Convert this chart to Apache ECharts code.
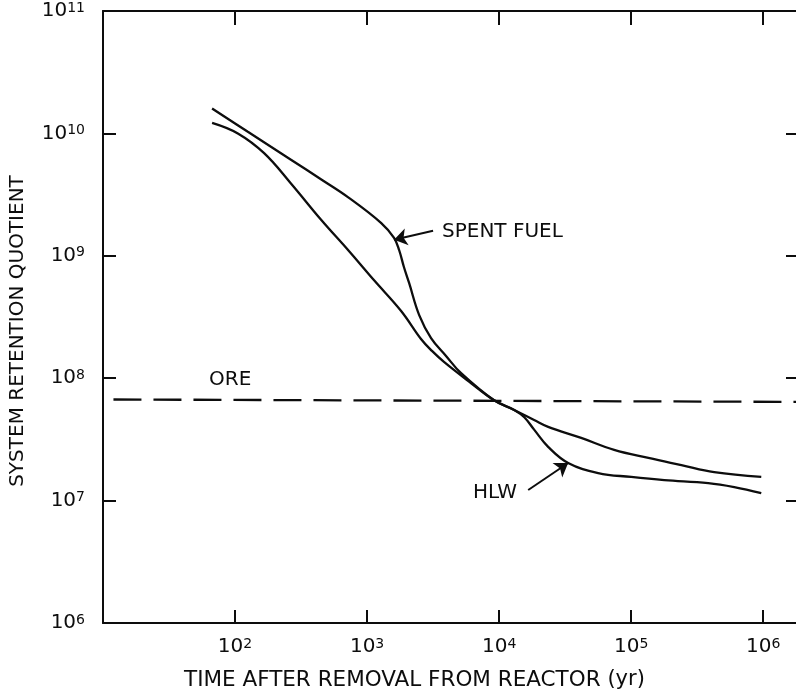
<!DOCTYPE html>
<html>
<head>
<meta charset="utf-8">
<script src="https://cdn.jsdelivr.net/npm/echarts/dist/echarts.min.js"></script>
<style>
  html, body { margin: 0; padding: 0; background: #fff; }
  #chart { width: 796px; height: 694px; }
</style>
</head>
<body>
<div id="chart"></div>
<script>
// years after removal from reactor
const sfYears = [67, 125, 265, 450, 720, 1280, 1600, 1750, 1900, 2080, 2480, 3050, 3960, 5150, 9160, 13000, 18400, 23500, 41800, 74300, 135000, 240000, 425000, 966000]
const sfValues = [1.6e10, 1.03e10, 6.1e9, 4.2e9, 3.0e9, 1.85e9, 1.4e9, 1.11e9, 8.1e8, 6.0e8, 3.28e8, 2.13e8, 1.52e8, 1.1e8, 6.6e7, 5.5e7, 4.55e7, 4.0e7, 3.25e7, 2.6e7, 2.23e7, 1.95e7, 1.71e7, 1.56e7]

const hlwYears = [67, 105, 166, 265, 450, 720, 1130, 1810, 2560, 3100, 3820, 6140, 9160, 13000, 15500, 18400, 23500, 33300, 56200, 100000, 178000, 383000, 603000, 966000]
const hlwValues = [1.22e10, 1.0e10, 6.9e9, 3.9e9, 1.96e9, 1.11e9, 6.3e8, 3.54e8, 2.09e8, 1.67e8, 1.36e8, 9.1e7, 6.6e7, 5.5e7, 4.8e7, 3.8e7, 2.75e7, 2.03e7, 1.68e7, 1.56e7, 1.47e7, 1.39e7, 1.29e7, 1.15e7]

const oreYears = [12, 2e6]
const oreValues = [6.7e7, 6.4e7]

// tick labels shown as powers of ten
const xTickExponents = [2, 3, 4, 5, 6]
const yTickExponents = [6, 7, 8, 9, 10, 11]

// arrow ends [year, value]
const spentArrow = [[3160, 1.6e9], [1600, 1.35e9]]
const hlwArrow = [[16600, 1.22e7], [33300, 2.03e7]]

const FONT = 'DejaVu Sans'
const INK = '#0d0d0d'

const pairs = (xs, ys) => xs.map((x, i) => [x, ys[i]])

const powLabel = (exps) => (value) => {
  const e = Math.log10(value)
  const r = Math.round(e)
  if (Math.abs(e - r) > 1e-6 || !exps.includes(r)) return ''
  return '{b|10}{s|' + r + '}'
}

const labelRich = {
  b: { fontSize: 20, lineHeight: 20, fontFamily: FONT, color: INK },
  s: { fontSize: 14, lineHeight: 14, fontFamily: FONT, color: INK, verticalAlign: 'top' }
}

const baseAxis = {
  type: 'log',
  logBase: 10,
  axisLine: { show: true, onZero: false, lineStyle: { color: INK, width: 2 } },
  axisTick: { show: true, inside: true, length: 13, lineStyle: { color: INK, width: 2 } },
  minorTick: { show: false },
  splitLine: { show: false },
  minorSplitLine: { show: false }
}

const chart = echarts.init(document.getElementById('chart'))

chart.setOption({
  backgroundColor: '#fff',
  animation: false,
  grid: { left: 103, top: 11, width: 700, height: 612, containLabel: false, outerBoundsMode: 'none' },
  xAxis: [
    Object.assign({}, baseAxis, {
      position: 'bottom', min: 10, max: 2e6,
      axisLabel: { margin: 14, formatter: powLabel(xTickExponents), rich: labelRich }
    }),
    Object.assign({}, baseAxis, {
      position: 'top', min: 10, max: 2e6,
      axisTick: { show: true, inside: true, length: 14, lineStyle: { color: INK, width: 2 } },
      axisLabel: { show: false }
    })
  ],
  yAxis: [
    Object.assign({}, baseAxis, {
      position: 'left', min: 1e6, max: 1e11,
      axisLabel: { margin: 18, formatter: powLabel(yTickExponents), rich: labelRich }
    }),
    Object.assign({}, baseAxis, {
      position: 'right', min: 1e6, max: 1e11,
      axisTick: { show: true, inside: true, length: 17, lineStyle: { color: INK, width: 2 } },
      axisLabel: { show: false }
    })
  ],
  series: [
    {
      name: 'SPENT FUEL',
      type: 'line',
      data: pairs(sfYears, sfValues),
      smooth: 0.4,
      symbol: 'none',
      lineStyle: { color: INK, width: 2.3 },
      markLine: {
        silent: true,
        symbol: ['none', 'arrow'],
        symbolSize: 13,
        label: { show: false },
        lineStyle: { color: INK, width: 2, type: 'solid' },
        data: [[{ coord: spentArrow[0] }, { coord: spentArrow[1] }]]
      }
    },
    {
      name: 'HLW',
      type: 'line',
      data: pairs(hlwYears, hlwValues),
      smooth: 0.4,
      symbol: 'none',
      lineStyle: { color: INK, width: 2.3 },
      markLine: {
        silent: true,
        symbol: ['none', 'arrow'],
        symbolSize: 13,
        label: { show: false },
        lineStyle: { color: INK, width: 2, type: 'solid', curveness: -0.3 },
        data: [[{ coord: hlwArrow[0] }, { coord: hlwArrow[1] }]]
      }
    },
    {
      name: 'ORE',
      type: 'line',
      data: pairs(oreYears, oreValues),
      symbol: 'none',
      lineStyle: { color: INK, width: 2.3, type: [28, 12] }
    }
  ],
  graphic: [
    { type: 'text', x: 442, y: 232, style: { text: 'SPENT FUEL', font: '20px ' + FONT, fill: INK, align: 'left', verticalAlign: 'middle' } },
    { type: 'text', x: 473, y: 493, style: { text: 'HLW', font: '20px ' + FONT, fill: INK, align: 'left', verticalAlign: 'middle' } },
    { type: 'text', x: 209, y: 380, style: { text: 'ORE', font: '20px ' + FONT, fill: INK, align: 'left', verticalAlign: 'middle' } },
    {
      type: 'text', x: 18, y: 331, rotation: Math.PI / 2,
      style: { text: 'SYSTEM RETENTION QUOTIENT', font: '20px ' + FONT, fill: INK, align: 'center', verticalAlign: 'middle' }
    },
    {
      type: 'text', x: 184, y: 680,
      style: {
        text: 'TIME AFTER REMOVAL FROM REACTOR {u|(yr)}',
        font: '21.5px ' + FONT, fill: INK, align: 'left', verticalAlign: 'middle',
        rich: { u: { fontSize: 21, fontFamily: FONT, fill: INK } }
      }
    }
  ]
})
</script>
</body>
</html>
